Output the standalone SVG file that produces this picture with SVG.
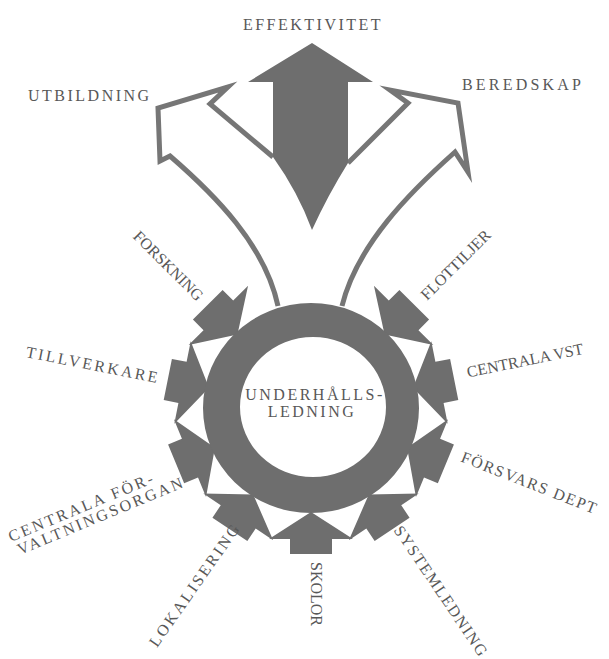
<svg xmlns="http://www.w3.org/2000/svg" width="609" height="659" viewBox="0 0 609 659">
<style>
.lbl{font-family:"Liberation Serif","DejaVu Serif",serif;font-size:16px;letter-spacing:2.5px;fill:#585858}
.tight{letter-spacing:0}
.mid{letter-spacing:1.6px}
.dark{fill:#6e6e6e}
.outline{fill:none;stroke:#767676;stroke-width:5;stroke-linejoin:miter;stroke-miterlimit:10}
</style>
<defs>
<path id="inarrow" d="M0,0 L27,-42 L27,-21 L42,-21 L42,21 L27,21 L27,42 Z"/>
</defs>
<rect width="609" height="659" fill="#ffffff"/>

<g id="connectors">
  <path class="outline" d="M278,306 C265,245 215,195 170,156 L160,161 L158,108 L228,87 L210,104 L273,157"/>
  <path class="outline" d="M342,306 C357,245 410,192 455,152 L468,172 L458,103 L390,90 L408,103 L348,163"/>
  <path class="dark" d="M312,43 L373,82 L348,82 L348,163 Q328,195 312,230 Q298,192 273,157 L273,82 L248,82 Z"/>
</g>

<g id="in-forskning"><use href="#inarrow" class="dark" transform="translate(311,408) rotate(225) translate(104,0)"/>
  <text class="lbl tight" text-anchor="end" dy="0.35em" transform="translate(201,298) rotate(45)">FORSKNING</text></g>
<g id="in-tillverkare"><use href="#inarrow" class="dark" transform="translate(311,408) rotate(191.25) translate(104,0)"/>
  <text class="lbl" text-anchor="end" dy="0.35em" transform="translate(160,378) rotate(11.25)">TILLVERKARE</text></g>
<g id="in-centrala-forvaltningsorgan"><use href="#inarrow" class="dark" transform="translate(311,408) rotate(157.5) translate(104,0)"/>
  <text class="lbl" transform="translate(11,542) rotate(-22.5)">CENTRALA FÖR-</text>
  <text class="lbl" transform="translate(20,555) rotate(-22.5)">VALTNINGSORGAN</text></g>
<g id="in-lokalisering"><use href="#inarrow" class="dark" transform="translate(311,408) rotate(123.75) translate(104,0)"/>
  <text class="lbl" transform="translate(157,648) rotate(-55)">LOKALISERING</text></g>
<g id="in-skolor"><use href="#inarrow" class="dark" transform="translate(311,408) rotate(90) translate(104,0)"/>
  <text class="lbl tight" dy="0.35em" transform="translate(317,562) rotate(90)">SKOLOR</text></g>
<g id="in-systemledning"><use href="#inarrow" class="dark" transform="translate(311,408) rotate(56.25) translate(104,0)"/>
  <text class="lbl mid" dy="0.35em" transform="translate(398,527) rotate(56)">SYSTEMLEDNING</text></g>
<g id="in-forsvarsdept"><use href="#inarrow" class="dark" transform="translate(311,408) rotate(22.5) translate(104,0)"/>
  <text class="lbl mid" dy="0.35em" transform="translate(462,456) rotate(21.5)">FÖRSVARS DEPT</text></g>
<g id="in-centrala-vst"><use href="#inarrow" class="dark" transform="translate(311,408) rotate(-11.25) translate(104,0)"/>
  <text class="lbl tight" dy="0.35em" transform="translate(467,372) rotate(-11.5)">CENTRALA VST</text></g>
<g id="in-flottiljer"><use href="#inarrow" class="dark" transform="translate(311,408) rotate(-45) translate(104,0)"/>
  <text class="lbl tight" dy="0.35em" transform="translate(423,297) rotate(-45)">FLOTTILJER</text></g>

<g id="ring">
  <path class="dark" fill-rule="evenodd" d="M203,408 A108,105 0 1,0 419,408 A108,105 0 1,0 203,408 Z M240,407 A73,70 0 1,1 386,407 A73,70 0 1,1 240,407 Z"/>
  <text class="lbl" text-anchor="middle" x="315" y="400">UNDERHÅLLS-</text>
  <text class="lbl" text-anchor="middle" x="312" y="417">LEDNING</text>
</g>

<g id="out-effektivitet"><text class="lbl" text-anchor="middle" x="313" y="30">EFFEKTIVITET</text></g>
<g id="out-utbildning"><text class="lbl" x="28" y="101">UTBILDNING</text></g>
<g id="out-beredskap"><text class="lbl" x="462" y="90" style="letter-spacing:3.2px">BEREDSKAP</text></g>
</svg>
